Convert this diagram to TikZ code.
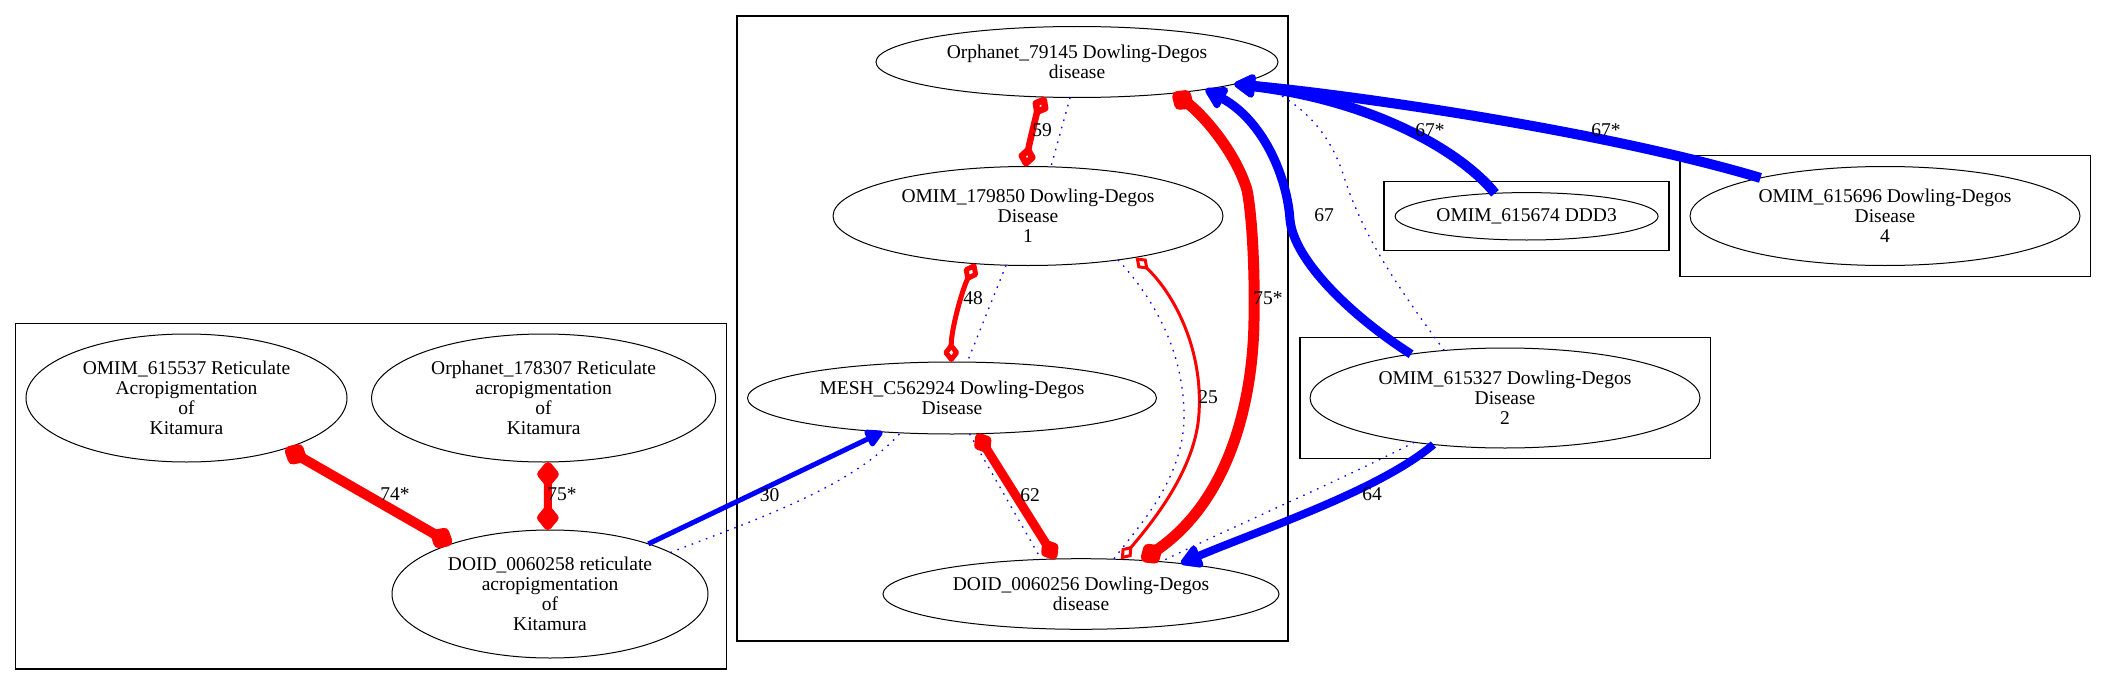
\documentclass[tikz,border=0pt]{standalone}
\usepackage{fontspec}
\setmainfont{Liberation Serif}
\usetikzlibrary{arrows.meta,shapes.geometric}
\newcommand\nodefnt{\fontsize{19.5}{20}\selectfont}
\tikzset{
  ell/.style={ellipse, draw, line width=1pt, inner sep=0pt, outer sep=0pt, align=center, font=\nodefnt},
  clus/.style={draw, line width=1.3pt},
  redE/.style={red},
  blueE/.style={blue},
  dotE/.style={blue, line width=1.3pt, dash pattern=on 1.6pt off 6pt},
  lab/.style={font=\nodefnt, inner sep=0pt}
}
\begin{document}
\begin{tikzpicture}[x=1pt,y=-1pt]
\useasboundingbox (0,0) rectangle (2107,685);
% clusters
\draw[clus] (737,16) rectangle (1288,641);
\draw[clus] (15.6,323.3) rectangle (726.8,669);
\draw[clus] (1384,181.7) rectangle (1669,250.7);
\draw[clus] (1680,155.7) rectangle (2090.6,276.7);
\draw[clus] (1300,337.3) rectangle (1710.4,458.5);
% nodes
\node[ell, minimum width=402pt, minimum height=71pt] (nO) at (1077,62) {Orphanet\_79145 Dowling-Degos\\disease};
\node[ell, minimum width=390pt, minimum height=99pt] (n1) at (1028,216) {OMIM\_179850 Dowling-Degos\\Disease\\1};
\node[ell, minimum width=409pt, minimum height=72pt] (nM) at (952,398) {MESH\_C562924 Dowling-Degos\\Disease};
\node[ell, minimum width=396pt, minimum height=70.6pt] (nD) at (1081,594) {DOID\_0060256 Dowling-Degos\\disease};
\node[ell, minimum width=321pt, minimum height=128pt] (nA) at (186.5,398) {OMIM\_615537 Reticulate\\Acropigmentation\\of\\Kitamura};
\node[ell, minimum width=344pt, minimum height=128pt] (nB) at (543.6,398) {Orphanet\_178307 Reticulate\\acropigmentation\\of\\Kitamura};
\node[ell, minimum width=316pt, minimum height=128pt] (nC) at (550,594) {DOID\_0060258 reticulate\\acropigmentation\\of\\Kitamura};
\node[ell, minimum width=263pt, minimum height=47.4pt] (nE) at (1526.6,216.3) {OMIM\_615674 DDD3};
\node[ell, minimum width=390pt, minimum height=99pt] (nF) at (1885,216) {OMIM\_615696 Dowling-Degos\\Disease\\4};
\node[ell, minimum width=390pt, minimum height=100pt] (nG) at (1505,398) {OMIM\_615327 Dowling-Degos\\Disease\\2};
% dotted edges
\draw[dotE] (nO.-101.2) -- (n1.65);
\draw[dotE] (n1.-114.1) -- (nM.67.3);
\draw[dotE] (nM.-64.7) -- (nD.139.9);
\draw[dotE] (n1.-26.7) .. controls (1160,305) and (1185,360) .. (1184,420) .. controls (1182,480) and (1140,525) .. (nD.47.4);
\draw[dotE] (nG.142.3) .. controls (1400,290) and (1365,240) .. (1345,180) .. controls (1330,130) and (1300,100) .. (nO.-6);
\draw[dotE] (nG.-154.7) .. controls (1345,478) and (1230,528) .. (nD.22.6);
\draw[dotE] (nC.19.1) .. controls (740,525) and (850,490) .. (nM.-146.2);
% red edges
\draw[redE, line width=6.5pt, arrows={Diamond[open,round,length=24pt,width=19pt]-Diamond[open,round,length=24pt,width=19pt]}] (nO.-132.5) .. controls (1037,112) and (1029,145) .. (n1.93.5);
\draw[redE, line width=5pt, arrows={Diamond[open,round,length=22pt,width=17pt]-Diamond[open,round,length=22pt,width=17pt]}] (n1.-138.1) .. controls (962,290) and (951,330) .. (nM.91.6);
\draw[redE, line width=9pt, arrows={Diamond[round,length=27pt,width=21pt]-Diamond[round,length=27pt,width=21pt]}] (nM.-55) -- (nD.126.6);
\draw[redE, line width=3pt, arrows={Diamond[open,length=18pt,width=13pt]-Diamond[open,length=18pt,width=13pt]}] (n1.-21.4) .. controls (1175,295) and (1203,350) .. (1199,413) .. controls (1196,470) and (1150,525) .. (nD.41.6);
\draw[redE, line width=11pt, arrows={Diamond[round,length=29pt,width=25pt]-Diamond[round,length=29pt,width=25pt]}] (nO.-18.7) .. controls (1200,112) and (1235,150) .. (1247,190) .. controls (1252,215) and (1255,270) .. (1254,320) .. controls (1253,400) and (1230,500) .. (nD.29.2);
\draw[redE, line width=10pt, arrows={Diamond[round,length=29pt,width=25pt]-Diamond[round,length=29pt,width=25pt]}] (nA.-27) -- (nC.153.2);
\draw[redE, line width=8pt, arrows={Diamond[round,length=29pt,width=24pt]-Diamond[round,length=29pt,width=24pt]}] (nB.-86.6) -- (nC.92.3);
% blue edges
\draw[blueE, line width=9pt, arrows={-Triangle[round,length=24pt,width=26pt]}] (nG.155.6) .. controls (1350,315) and (1294,260) .. (1290,220) .. controls (1287,175) and (1262,120) .. (nO.-12.4);
\draw[blueE, line width=10pt, arrows={-Triangle[round,length=24pt,width=26pt]}] (nE.144.8) .. controls (1460,150) and (1370,100) .. (nO.-8);
\draw[blueE, line width=10pt, arrows={-Triangle[round,length=24pt,width=26pt]}] (nF.163.1) .. controls (1600,130) and (1350,95) .. (nO.-8);
\draw[blueE, line width=8pt, arrows={-Triangle[round,length=24pt,width=26pt]}] (nG.-147.1) .. controls (1380,490) and (1260,530) .. (nD.17.2);
\draw[blueE, line width=5pt, arrows={-Triangle[round,length=20pt,width=20pt]}] (nC.27.7) -- (nM.-154.5);
% labels
\node[lab] (l59) at (1042,130) {59};
\node[lab] (l48) at (973,298) {48};
\node[lab] (l62) at (1030,495) {62};
\node[lab] (l25) at (1208,397) {25};
\node[lab] (l75c) at (1268,298) {75*};
\node[lab] (l67) at (1324,215) {67};
\node[lab] (l67e) at (1430,130) {67*};
\node[lab] (l67f) at (1606,130) {67*};
\node[lab] (l64) at (1372,494) {64};
\node[lab] (l30) at (769.5,495) {30};
\node[lab] (l74) at (395,494) {74*};
\node[lab] (l75l) at (562,494) {75*};
\end{tikzpicture}
\end{document}
